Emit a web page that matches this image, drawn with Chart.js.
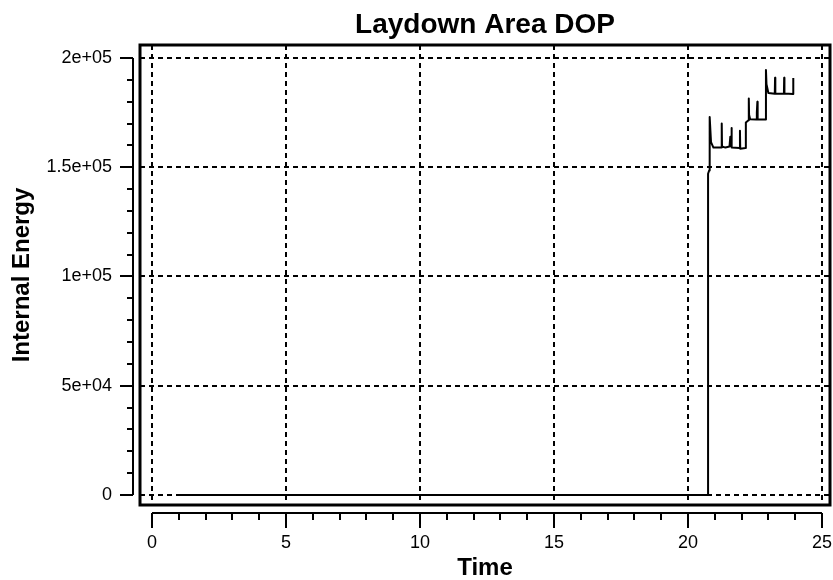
<!DOCTYPE html>
<html>
<head>
<meta charset="utf-8">
<script src="https://cdn.jsdelivr.net/npm/chart.js@4.4.1/dist/chart.umd.min.js"></script>
<style>
  html, body { margin: 0; padding: 0; background: #fff; }
  canvas { display: block; }
</style>
</head>
<body>
<canvas id="myChart" width="833" height="580"></canvas>
<script>
// values
var timeValues = [1, 20.75, 20.75, 20.79, 20.8, 20.82, 20.86, 20.95, 21.24, 21.26, 21.27, 21.4, 21.55,
  21.58, 21.61, 21.62, 21.63, 21.64, 21.92, 21.94, 21.95, 22.15, 22.16, 22.26, 22.27, 22.28, 22.32,
  22.55, 22.57, 22.59, 22.6, 22.89, 22.91, 22.93, 23.0, 23.24, 23.25, 23.26, 23.58, 23.59, 23.6,
  23.92, 23.93];
var energyValues = [0, 0, 147000, 148500, 150000, 173000, 161500, 159000, 159000, 170000, 159500, 159000, 159500,
  164000, 160000, 159500, 168000, 159000, 158800, 166700, 158500, 158800, 170500, 171500, 181500, 174000, 172000,
  171800, 175000, 180000, 172000, 171800, 194500, 188000, 184000, 183600, 191000, 183800, 183600, 191000, 183700,
  183500, 190800];

var xTickValues = [0, 5, 10, 15, 20, 25];
var xTickLabels = ['0', '5', '10', '15', '20', '25'];
var yTickValues = [0, 50000, 100000, 150000, 200000];
var yTickLabels = ['0', '5e+04', '1e+05', '1.5e+05', '2e+05'];

var fontFamily = '"Liberation Sans", Arial, Helvetica, sans-serif';

var points = timeValues.map(function (t, i) {
  return { x: t, y: energyValues[i] };
});

// thick frame round the plot and the detached axes with minor ticks
var framePlugin = {
  id: 'frame',
  afterDraw: function (chart) {
    var ctx = chart.ctx;
    var a = chart.chartArea;
    var xs = chart.scales.x;
    var ys = chart.scales.y;
    ctx.save();
    ctx.strokeStyle = '#000';
    ctx.setLineDash([]);

    ctx.lineWidth = 3;
    ctx.strokeRect(a.left, a.top, a.right - a.left, a.bottom - a.top);

    ctx.lineWidth = 2;
    // y axis
    var ax = a.left - 7;
    ctx.beginPath();
    ctx.moveTo(ax, ys.getPixelForValue(0));
    ctx.lineTo(ax, ys.getPixelForValue(200000));
    for (var v = 0; v <= 200000; v += 10000) {
      var py = Math.round(ys.getPixelForValue(v));
      var len = (v % 50000 === 0) ? 13 : 6;
      ctx.moveTo(ax, py);
      ctx.lineTo(ax - len, py);
    }
    ctx.stroke();

    // x axis
    var ay = a.bottom + 8;
    ctx.beginPath();
    ctx.moveTo(xs.getPixelForValue(0), ay);
    ctx.lineTo(xs.getPixelForValue(25), ay);
    for (var t = 0; t <= 25; t++) {
      var px = Math.round(xs.getPixelForValue(t));
      var l = (t % 5 === 0) ? 15 : 7;
      ctx.moveTo(px, ay);
      ctx.lineTo(px, ay + l);
    }
    ctx.stroke();
    ctx.restore();
  }
};

const ctx = document.getElementById('myChart');

new Chart(ctx, {
  type: 'line',
  data: {
    datasets: [{
      label: 'Internal Energy',
      data: points,
      borderColor: '#000',
      borderWidth: 2,
      borderJoinStyle: 'round',
      pointRadius: 0,
      tension: 0,
      fill: false
    }]
  },
  options: {
    responsive: false,
    animation: false,
    devicePixelRatio: 1,
    layout: {
      padding: { left: 0, right: 3, top: 0, bottom: 0 }
    },
    plugins: {
      legend: { display: false },
      tooltip: { enabled: false },
      title: {
        display: true,
        text: 'Laydown Area DOP',
        color: '#000',
        fullSize: false,
        font: { family: fontFamily, size: 28, weight: 'bold', lineHeight: 1.2 },
        padding: { top: 8.5, bottom: 2.9 }
      }
    },
    scales: {
      x: {
        type: 'linear',
        min: -0.448,
        max: 25.30,
        afterBuildTicks: function (scale) {
          scale.ticks = xTickValues.map(function (v) { return { value: v }; });
        },
        afterFit: function (scale) {
          scale.height = 75;
          scale.paddingLeft = 0;
          scale.paddingRight = 0;
        },
        ticks: {
          autoSkip: false,
          maxRotation: 0,
          padding: 27,
          color: '#000',
          font: { family: fontFamily, size: 18 },
          callback: function (value, index) { return xTickLabels[index]; }
        },
        grid: {
          color: '#000',
          lineWidth: 2,
          drawTicks: false
        },
        border: { display: false, dash: [5, 4] },
        title: {
          display: true,
          text: 'Time',
          color: '#000',
          font: { family: fontFamily, size: 24, weight: 'bold', lineHeight: 1 },
          padding: { top: 0, bottom: 0 }
        }
      },
      y: {
        type: 'linear',
        min: -4577,
        max: 205950,
        afterBuildTicks: function (scale) {
          scale.ticks = yTickValues.map(function (v) { return { value: v }; });
        },
        afterFit: function (scale) {
          scale.width = 140;
          scale.paddingTop = 0;
          scale.paddingBottom = 0;
        },
        ticks: {
          padding: 28,
          color: '#000',
          font: { family: fontFamily, size: 18 },
          callback: function (value, index) { return yTickLabels[index]; }
        },
        grid: {
          color: '#000',
          lineWidth: 2,
          drawTicks: false
        },
        border: { display: false, dash: [5, 4] },
        title: {
          display: true,
          text: 'Internal Energy',
          color: '#000',
          font: { family: fontFamily, size: 24, weight: 'bold', lineHeight: 1 },
          padding: { top: 10, bottom: 0 }
        }
      }
    }
  },
  plugins: [framePlugin]
});
</script>
</body>
</html>
